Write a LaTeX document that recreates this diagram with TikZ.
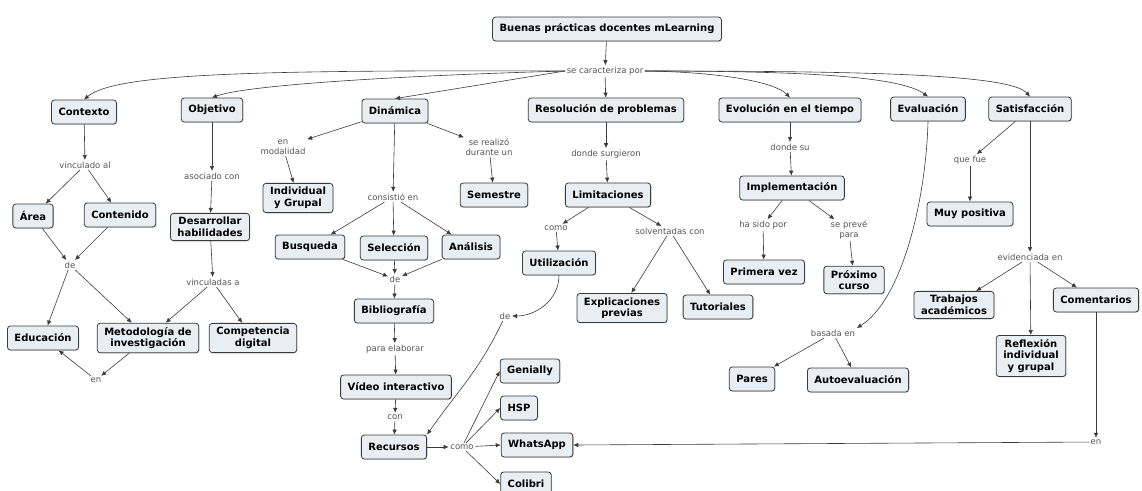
\documentclass[tikz,border=0pt]{standalone}
\usepackage{fontspec}
\setmainfont{DejaVu Sans}
\usetikzlibrary{arrows.meta,positioning,shadows}
\definecolor{cmapfill}{HTML}{E9EEF2}
\definecolor{cmapline}{HTML}{3A3A3A}
\definecolor{lbltext}{HTML}{555555}
\tikzset{
  concept/.style={draw=cmapline,fill=cmapfill,rounded corners=3pt,line width=0.8pt,align=center,
    font=\fontsize{10}{11.5}\selectfont\bfseries,inner xsep=7pt,inner ysep=4pt,minimum height=24pt,
    drop shadow={shadow xshift=0.8pt,shadow yshift=-0.8pt,opacity=0.3}},
  linklbl/.style={font=\fontsize{8.5}{9.5}\selectfont,text=lbltext,fill=white,inner sep=1.5pt,align=center},
  linkarr/.style={-{Latex[length=5pt,width=4.5pt]},cmapline,line width=0.6pt},
}

\begin{document}
\begin{tikzpicture}[x=1pt,y=1pt]
  \useasboundingbox (0,0) rectangle (1142,-490);
  % root
  \node[concept] (buenas) at (607,-29) {Buenas prácticas docentes mLearning};
  \node[linklbl] (carac) at (605,-71) {se caracteriza por};
  % first level
  \node[concept] (contexto) at (84,-112) {Contexto};
  \node[concept] (objetivo) at (212,-110) {Objetivo};
  \node[concept] (dinamica) at (395,-111) {Dinámica};
  \node[concept] (resolucion) at (606,-110) {Resolución de problemas};
  \node[concept] (evolucion) at (790,-110) {Evolución en el tiempo};
  \node[concept] (evaluacion) at (928,-109) {Evaluación};
  \node[concept] (satisfaccion) at (1030,-109) {Satisfacción};

  % contexto
  \node[linklbl] (vinculado) at (85,-165) {vinculado al};
  \node[concept] (area) at (33,-216) {Área};
  \node[concept] (contenido) at (120,-215) {Contenido};
  \node[linklbl] (deA) at (70,-265) {de};
  \node[concept] (educacion) at (43,-338) {Educación};
  \node[concept] (metodologia) at (148,-338) {Metodología de\\investigación};
  \node[linklbl] (enA) at (96,-380) {en};

  % objetivo
  \node[linklbl] (asociado) at (212,-176) {asociado con};
  \node[concept] (desarrollar) at (210,-227) {Desarrollar\\habilidades};
  \node[linklbl] (vinculadas) at (213,-282) {vinculadas a};
  \node[concept] (competencia) at (253,-338) {Competencia\\digital};

  % dinamica
  \node[linklbl] (modalidad) at (283,-147) {en\\modalidad};
  \node[concept] (individual) at (298,-198) {Individual\\y Grupal};
  \node[linklbl] (realizo) at (489,-147) {se realizó\\durante un};
  \node[concept] (semestre) at (494,-195) {Semestre};
  \node[linklbl] (consistio) at (393,-197) {consistió en};
  \node[concept] (busqueda) at (310,-247) {Busqueda};
  \node[concept] (seleccion) at (394,-248) {Selección};
  \node[concept] (analisis) at (471,-247) {Análisis};
  \node[linklbl] (deB) at (395,-279) {de};
  \node[concept] (bibliografia) at (394,-311) {Bibliografía};
  \node[linklbl] (elaborar) at (395,-349) {para elaborar};
  \node[concept] (video) at (396,-387) {Vídeo interactivo};
  \node[linklbl] (con) at (395,-417) {con};
  \node[concept] (recursos) at (394,-447) {Recursos};
  \node[linklbl] (comoB) at (462,-447) {como};
  \node[concept] (genially) at (530,-371) {Genially};
  \node[concept] (hsp) at (519,-408) {HSP};
  \node[concept] (whatsapp) at (537,-445) {WhatsApp};
  \node[concept] (colibri) at (526,-484) {Colibri};

  % resolucion
  \node[linklbl] (surgieron) at (606,-154) {donde surgieron};
  \node[concept] (limitaciones) at (608,-195) {Limitaciones};
  \node[linklbl] (comoA) at (556,-228) {como};
  \node[concept] (utilizacion) at (559,-263) {Utilización};
  \node[linklbl] (solventadas) at (670,-231) {solventadas con};
  \node[concept] (explicaciones) at (622,-308) {Explicaciones\\previas};
  \node[concept] (tutoriales) at (718,-307) {Tutoriales};
  \node[linklbl] (deC) at (505,-316) {de};

  % evolucion
  \node[linklbl] (dondesu) at (790,-147) {donde su};
  \node[concept] (implementacion) at (792,-188) {Implementación};
  \node[linklbl] (hasido) at (763,-225) {ha sido por};
  \node[linklbl] (preve) at (849,-230) {se prevé\\para};
  \node[concept] (primera) at (764,-272) {Primera vez};
  \node[concept] (proximo) at (854,-280) {Próximo\\curso};

  % evaluacion
  \node[linklbl] (basada) at (833,-333) {basada en};
  \node[concept] (pares) at (752,-379) {Pares};
  \node[concept] (autoeval) at (858,-380) {Autoevaluación};

  % satisfaccion
  \node[linklbl] (quefue) at (970,-160) {que fue};
  \node[concept] (muy) at (970,-214) {Muy positiva};
  \node[linklbl] (evidenciada) at (1030,-257) {evidenciada en};
  \node[concept] (trabajos) at (954,-305) {Trabajos\\académicos};
  \node[concept] (reflexion) at (1031,-356) {Reflexión\\individual\\y grupal};
  \node[concept] (comentarios) at (1096,-300) {Comentarios};
  \node[linklbl] (enB) at (1096,-442) {en};

  % links from root
  \draw[linkarr] (buenas) -- (carac);
  \draw[linkarr] (carac.west) .. controls (260,-70) and (115,-73) .. (contexto.north);
  \draw[linkarr] (carac.west) .. controls (420,-75) and (250,-84) .. (objetivo.north);
  \draw[linkarr] (carac.west) -- (dinamica.north);
  \draw[linkarr] (carac) -- (resolucion);
  \draw[linkarr] (carac.east) .. controls (720,-72) and (775,-82) .. (evolucion.north);
  \draw[linkarr] (carac.east) .. controls (800,-71) and (900,-76) .. (evaluacion.north);
  \draw[linkarr] (carac.east) .. controls (860,-71) and (1010,-74) .. (satisfaccion.north);

  \draw[linkarr] (contexto) -- (vinculado);
  \draw[linkarr] (vinculado) -- (area);
  \draw[linkarr] (vinculado) -- (contenido);
  \draw[linkarr] (area) -- (deA);
  \draw[linkarr] (contenido) -- (deA);
  \draw[linkarr] (deA) -- (educacion);
  \draw[linkarr] (deA) -- (metodologia);
  \draw[linkarr] (metodologia) -- (enA);
  \draw[linkarr] (enA) -- (educacion);

  \draw[linkarr] (objetivo) -- (asociado);
  \draw[linkarr] (asociado) -- (desarrollar);
  \draw[linkarr] (desarrollar) -- (vinculadas);
  \draw[linkarr] (vinculadas) -- (metodologia);
  \draw[linkarr] (vinculadas) -- (competencia);

  \draw[linkarr] (dinamica) -- (modalidad);
  \draw[linkarr] (modalidad) -- (individual);
  \draw[linkarr] (dinamica) -- (realizo);
  \draw[linkarr] (realizo) -- (semestre);
  \draw[linkarr] (dinamica) -- (consistio);
  \foreach \n in {busqueda,seleccion,analisis}{
    \draw[linkarr] (consistio) -- (\n);
    \draw[linkarr] (\n) -- (deB);
  }
  \draw[linkarr] (deB) -- (bibliografia);
  \draw[linkarr] (bibliografia) -- (elaborar);
  \draw[linkarr] (elaborar) -- (video);
  \draw[linkarr] (video) -- (con);
  \draw[linkarr] (con) -- (recursos);
  \draw[linkarr] (recursos) -- (comoB);
  \foreach \n in {genially,hsp,whatsapp,colibri}
    \draw[linkarr] (comoB) -- (\n.west);

  \draw[linkarr] (resolucion) -- (surgieron);
  \draw[linkarr] (surgieron) -- (limitaciones);
  \draw[linkarr] (limitaciones) -- (comoA);
  \draw[linkarr] (comoA) -- (utilizacion);
  \draw[linkarr] (limitaciones) -- (solventadas);
  \draw[linkarr] (solventadas) -- (explicaciones);
  \draw[linkarr] (solventadas) -- (tutoriales);
  \draw[linkarr] (utilizacion.south) to[out=-90,in=0] (deC.east);
  \draw[linkarr] (deC) to[out=-115,in=55] (recursos.north east);

  \draw[linkarr] (evolucion) -- (dondesu);
  \draw[linkarr] (dondesu) -- (implementacion);
  \draw[linkarr] (implementacion) -- (hasido);
  \draw[linkarr] (hasido) -- (primera);
  \draw[linkarr] (implementacion) -- (preve);
  \draw[linkarr] (preve) -- (proximo);

  \draw[linkarr] (evaluacion.south) .. controls (926,-200) and (902,-300) .. (basada.north east);
  \draw[linkarr] (basada) -- (pares);
  \draw[linkarr] (basada) -- (autoeval);

  \draw[linkarr] (satisfaccion) -- (quefue);
  \draw[linkarr] (quefue) -- (muy);
  \draw[linkarr] (satisfaccion) -- (evidenciada);
  \draw[linkarr] (evidenciada) -- (trabajos);
  \draw[linkarr] (evidenciada) -- (reflexion);
  \draw[linkarr] (evidenciada) -- (comentarios);
  \draw[linkarr] (comentarios) -- (enB);
  \draw[linkarr] (enB) -- (whatsapp.east);
\end{tikzpicture}
\end{document}
